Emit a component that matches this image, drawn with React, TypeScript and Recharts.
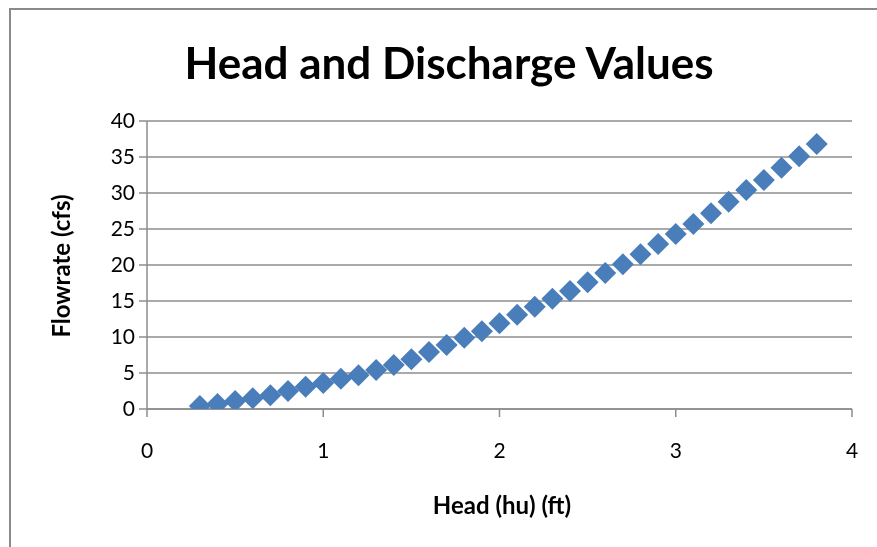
import React from "react";
import { ScatterChart, Scatter, XAxis, YAxis, CartesianGrid } from "recharts";

const headValues = [0.3, 0.4, 0.5, 0.6, 0.7, 0.8, 0.9, 1.0, 1.1, 1.2, 1.3, 1.4, 1.5, 1.6, 1.7, 1.8, 1.9, 2.0, 2.1, 2.2, 2.3, 2.4, 2.5, 2.6, 2.7, 2.8, 2.9, 3.0, 3.1, 3.2, 3.3, 3.4, 3.5, 3.6, 3.7, 3.8];
const flowValues = [0.4, 0.7, 1.1, 1.5, 1.9, 2.5, 3.1, 3.6, 4.2, 4.7, 5.4, 6.1, 6.9, 7.9, 8.9, 9.9, 10.8, 11.9, 13.1, 14.2, 15.3, 16.4, 17.6, 18.9, 20.1, 21.5, 22.9, 24.3, 25.7, 27.2, 28.8, 30.4, 31.8, 33.5, 35.1, 36.8];
const xTicks = [0, 1, 2, 3, 4];
const yTicks = [0, 5, 10, 15, 20, 25, 30, 35, 40];

const data = headValues.map((h, i) => ({ head: h, flow: flowValues[i] }));

const Diamond = (props: any) => {
  const { cx, cy } = props;
  const r = 11;
  return (
    <polygon
      points={`${cx},${cy - r} ${cx + r},${cy} ${cx},${cy + r} ${cx - r},${cy}`}
      fill="#4A7EBB"
    />
  );
};

const FONT = "Lato, 'Open Sans', sans-serif";

export default function App() {
  return (
    <div style={{ position: "relative", width: 861, height: 531, fontFamily: FONT }}>
      <div style={{ position: "fixed", left: 9, top: 8, width: 868, height: 539, boxSizing: "border-box", borderLeft: "2px solid #8A8A8A", borderTop: "2px solid #8A8A8A" }} />
      <div style={{ position: "absolute", left: 0, width: 882, top: 28, textAlign: "center", fontSize: 44, fontWeight: 700, color: "#000", lineHeight: "52px", whiteSpace: "nowrap" }}>
        Head and Discharge Values
      </div>
      <div style={{ position: "absolute", left: 53 - 100, top: 258 - 14, width: 200, height: 28, textAlign: "center", lineHeight: "28px", fontSize: 24, fontWeight: 700, transform: "rotate(-90deg)" }}>
        Flowrate (cfs)
      </div>
      <div style={{ position: "absolute", left: 494 - 100, top: 497 - 14, width: 200, height: 28, textAlign: "center", lineHeight: "28px", fontSize: 24, fontWeight: 700 }}>
        Head (hu) (ft)
      </div>
      <div style={{ position: "absolute", left: 0, top: 0 }}>
        <ScatterChart width={861} height={531} margin={{ top: 113, right: 17, bottom: 70, left: 79 }}>
          <CartesianGrid horizontal={true} vertical={false} stroke="#8C8C8C" strokeWidth={1.5} />
          <XAxis
            type="number"
            dataKey="head"
            domain={[0, 4]}
            ticks={xTicks}
            height={60}
            tickSize={8}
            tickMargin={26}
            axisLine={{ stroke: "#8C8C8C", strokeWidth: 1.5 }}
            tickLine={{ stroke: "#8C8C8C", strokeWidth: 1.5 }}
            tick={{ fill: "#000", fontSize: 21, fontFamily: FONT }}
            allowDataOverflow
          />
          <YAxis
            type="number"
            dataKey="flow"
            domain={[0, 40]}
            ticks={yTicks}
            width={60}
            tickSize={8}
            tickMargin={4}
            axisLine={{ stroke: "#8C8C8C", strokeWidth: 1.5 }}
            tickLine={{ stroke: "#8C8C8C", strokeWidth: 1.5 }}
            tick={{ fill: "#000", fontSize: 21, fontFamily: FONT }}
            allowDataOverflow
          />
          <Scatter data={data} shape={<Diamond />} isAnimationActive={false} />
        </ScatterChart>
      </div>
    </div>
  );
}
